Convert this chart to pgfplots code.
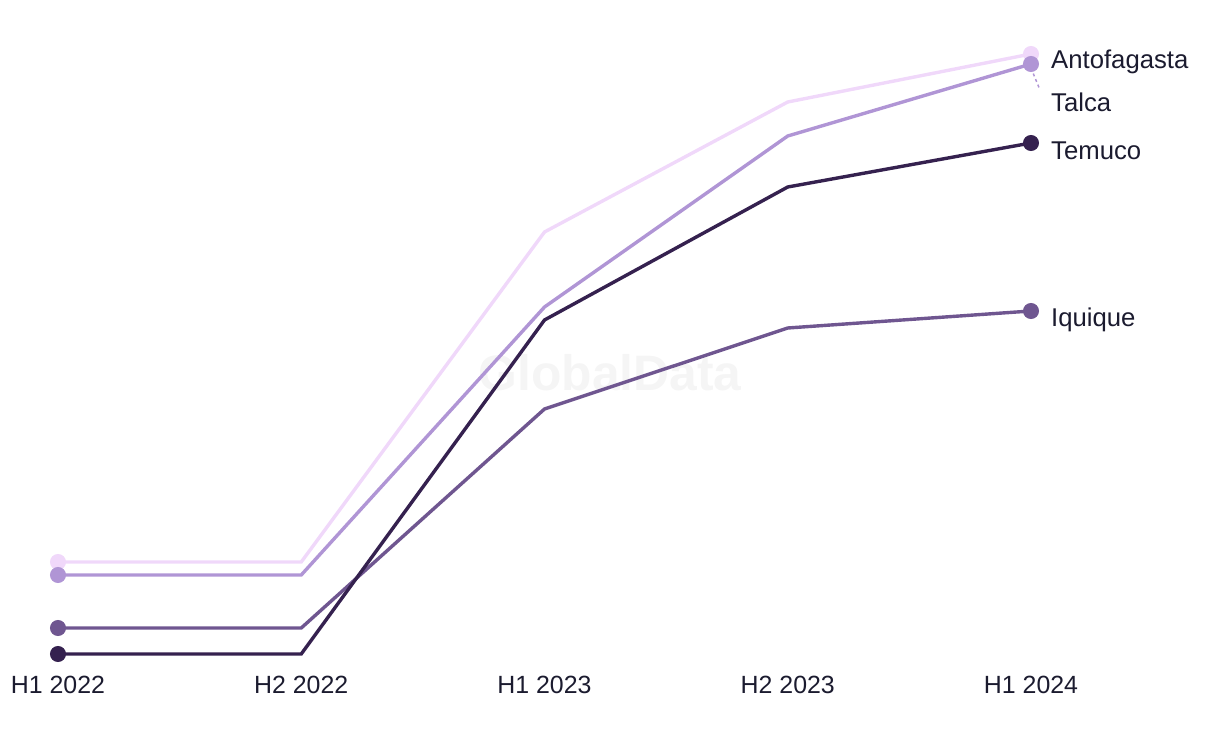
\documentclass[border=0pt]{standalone}
\usepackage{fontspec}
\setmainfont{Liberation Sans}
\usepackage{pgfplots}
\pgfplotsset{compat=1.18}
\definecolor{cAnto}{HTML}{F0D8FA}
\definecolor{cTalca}{HTML}{B095D5}
\definecolor{cTemuco}{HTML}{35214F}
\definecolor{cIqui}{HTML}{6F5690}
\definecolor{txt}{HTML}{1B1B2F}
\begin{document}
\begin{tikzpicture}
\path[use as bounding box] (0,0) rectangle (1220bp,744bp);
\node[font=\fontsize{50}{54}\selectfont\bfseries, text=black!4] at (610bp,371bp) {GlobalData};
\begin{axis}[
  at={(58bp,79bp)}, anchor=south west,
  scale only axis, width=973bp, height=625bp,
  xmin=0, xmax=4, ymin=79, ymax=704,
  axis lines=none,
  clip=false,
  xtick={0,1,2,3,4},
  xticklabels={H1 2022,H2 2022,H1 2023,H2 2023,H1 2024},
  ytick=\empty,
  every axis plot/.append style={line width=3.4bp, mark=*, mark indices={1,5}, mark size=6.3bp},
]
\addplot[cAnto, mark options={fill=cAnto, draw=cAnto}] coordinates {(0,182) (1,182) (2,512) (3,642) (4,690)};
\addplot[cTalca, mark options={fill=cTalca, draw=cTalca}] coordinates {(0,169) (1,169) (2,437) (3,608) (4,680)};
\addplot[cIqui, mark options={fill=cIqui, draw=cIqui}] coordinates {(0,116) (1,116) (2,335) (3,416) (4,433)};
\addplot[cTemuco, mark options={fill=cTemuco, draw=cTemuco}] coordinates {(0,90) (1,90) (2,424) (3,557) (4,601)};
\foreach \lab/\xx in {H1 2022/0, H2 2022/1, H1 2023/2, H2 2023/3, H1 2024/4} {
  \edef\temp{\noexpand\node[anchor=north, inner sep=0pt, text=txt, font=\noexpand\fontsize{25}{28}\noexpand\selectfont] at (axis cs:\xx,79) [yshift=-10.5bp] {\lab};}
  \temp
}
\draw[cTalca, line width=1.5bp, dash pattern=on 3bp off 3bp] (axis cs:4,676) -- ([xshift=9bp]axis cs:4,654);
\begin{scope}[every node/.style={anchor=west, inner sep=0pt, text=txt, font=\fontsize{25.8}{28}\selectfont}]
\node at ([xshift=20bp]axis cs:4,682) {Antofagasta};
\node at ([xshift=20bp]axis cs:4,642) {Talca};
\node at ([xshift=20bp]axis cs:4,593) {Temuco};
\node at ([xshift=20bp]axis cs:4,424) {Iquique};
\end{scope}
\end{axis}
\end{tikzpicture}
\end{document}
